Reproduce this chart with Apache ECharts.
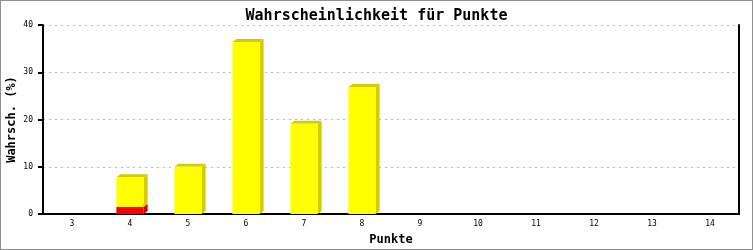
<!DOCTYPE html>
<html><head><meta charset="utf-8">
<script src="https://cdn.jsdelivr.net/npm/echarts@6/dist/echarts.min.js"></script>
<style>html,body{margin:0;padding:0;background:#fff}#c{width:753px;height:250px}</style>
</head><body><div id="c"></div>
<script>
var categories = ['3','4','5','6','7','8','9','10','11','12','13','14'];
var redValues = [0, 1.5, 0, 0, 0, 0, 0, 0, 0, 0, 0, 0];
var yellowValues = [0, 6.3, 10.0, 36.4, 19.1, 26.9, 0, 0, 0, 0, 0, 0];
var yTicks = [0, 10, 20, 30, 40];

function segData(base, vals) {
  var out = [];
  for (var i = 0; i < vals.length; i++) {
    var b = base ? base[i] : 0;
    if (vals[i] > 0) out.push([i, b, b + vals[i]]);
  }
  return out;
}
function make3D(front, side, top) {
  return function (params, api) {
    var x = api.value(0), lo = api.value(1), hi = api.value(2);
    var pLo = api.coord([x, lo]), pHi = api.coord([x, hi]);
    var bw = api.size([1, 0])[0] * 0.47;
    var x0 = pLo[0] - bw / 2, x1 = pLo[0] + bw / 2;
    var dx = 4, dy = 3;
    return {
      type: 'group',
      children: [
        { type: 'polygon', shape: { points: [[x1, pHi[1]], [x1 + dx, pHi[1] - dy], [x1 + dx, pLo[1] - dy], [x1, pLo[1]]] }, style: { fill: side } },
        { type: 'polygon', shape: { points: [[x0, pHi[1]], [x0 + dx, pHi[1] - dy], [x1 + dx, pHi[1] - dy], [x1, pHi[1]]] }, style: { fill: top } },
        { type: 'rect', shape: { x: x0, y: pHi[1], width: bw, height: pLo[1] - pHi[1] }, style: { fill: front } }
      ]
    };
  };
}
var chart = echarts.init(document.getElementById('c'), null, { renderer: 'canvas' });
chart.setOption({
  animation: false,
  backgroundColor: '#fff',
  title: {
    text: 'Wahrscheinlichkeit für Punkte', left: 'center', top: 4,
    textStyle: { fontFamily: 'DejaVu Sans Mono', fontWeight: 'bold', fontSize: 15, color: '#000' }
  },
  graphic: [{ type: 'rect', shape: { x: 0, y: 0, width: 753, height: 250 }, style: { fill: 'none', stroke: '#909090', lineWidth: 2 }, silent: true }],
  grid: { left: 43, right: 14, top: 25, bottom: 36, outerBoundsMode: 'none', containLabel: false },
  xAxis: {
    type: 'category', data: categories,
    name: 'Punkte', nameLocation: 'middle', nameGap: 20, nameMoveOverlap: false,
    nameTextStyle: { fontFamily: 'DejaVu Sans Mono', fontWeight: 'bold', fontSize: 12, color: '#000' },
    axisLine: { lineStyle: { color: '#000', width: 2 } },
    axisTick: { show: false },
    axisLabel: { margin: 6, fontFamily: 'DejaVu Sans Mono', fontSize: 8, color: '#000' }
  },
  yAxis: [{
    type: 'value', min: 0, max: 40, interval: 10,
    name: 'Wahrsch. (%)', nameLocation: 'middle', nameGap: 25, nameRotate: 90, nameMoveOverlap: false,
    nameTextStyle: { fontFamily: 'DejaVu Sans Mono', fontWeight: 'bold', fontSize: 12, color: '#000' },
    axisLine: { show: true, lineStyle: { color: '#000', width: 2 } },
    axisTick: { show: true, inside: false, length: 5, lineStyle: { color: '#000', width: 2 } },
    axisLabel: { margin: 10, fontFamily: 'DejaVu Sans Mono', fontSize: 8, color: '#000',
      formatter: function (v) { return yTicks.indexOf(v) >= 0 ? String(v) : ''; } },
    splitLine: { show: true, lineStyle: { color: '#bbbbbb', type: [2, 4], width: 1 } }
  }, {
    type: 'value', min: 0, max: 40, interval: 10, position: 'right',
    axisLine: { show: true, lineStyle: { color: '#000', width: 2 } },
    axisTick: { show: false }, axisLabel: { show: false }, splitLine: { show: false }
  }],
  series: [
    { type: 'custom', renderItem: make3D('#ff0000', '#cc0000', '#cc0000'), encode: { x: 0, y: [1, 2] }, data: segData(null, redValues) },
    { type: 'custom', renderItem: make3D('#ffff00', '#d4cc00', '#d4cc00'), encode: { x: 0, y: [1, 2] }, data: segData(redValues, yellowValues) }
  ]
});
</script></body></html>
